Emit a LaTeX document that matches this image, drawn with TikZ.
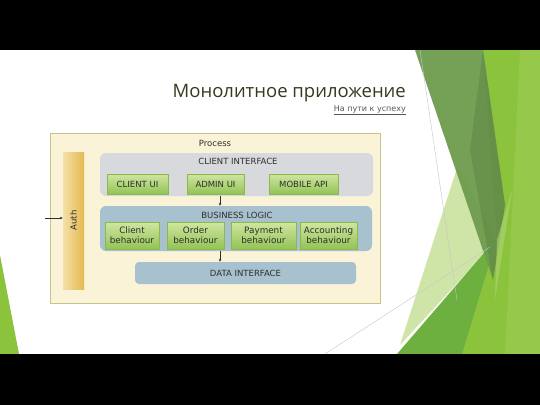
\documentclass[tikz,border=0pt]{standalone}
\usepackage{fontspec}
\setmainfont{DejaVu Sans}
\newfontfamily\dfont{DejaVu Sans}
\newfontfamily\tfont{Open Sans}
\usetikzlibrary{arrows.meta}
\definecolor{cream}{HTML}{FAF3D8}
\definecolor{creamline}{HTML}{C6C48E}
\definecolor{cigray}{HTML}{D8D9DC}
\definecolor{blgray}{HTML}{A8C1CE}
\definecolor{btntop}{HTML}{CFE6A0}
\definecolor{btnbot}{HTML}{93C356}
\definecolor{btnline}{HTML}{8DB850}
\definecolor{txt}{HTML}{2E2E2E}
\definecolor{titlec}{HTML}{333D1E}
\definecolor{subc}{HTML}{555555}
\definecolor{lime}{HTML}{8CC33C}
\definecolor{olive}{HTML}{6E9C4E}
\definecolor{midgreen}{HTML}{6DB040}
\definecolor{palegreen}{HTML}{CFE5A8}
\definecolor{authl}{HTML}{F4E0A6}
\definecolor{authr}{HTML}{E4B850}
\tikzset{
  layerbox/.style={rounded corners=6pt, draw=none, inner sep=0pt},
  btn/.style={draw=btnline, line width=0.5pt, top color=btntop, bottom color=btnbot,
    inner sep=0pt, font=\dfont\fontsize{8.5}{9.5}\selectfont, text=txt, align=center},
  lbl/.style={font=\dfont\fontsize{8.5}{9.5}\selectfont, text=txt, inner sep=0pt},
  conn/.style={-{Stealth[length=3pt,width=2.5pt]}, line width=0.5pt, draw=txt},
  thin/.style={draw=gray!45, line width=0.4pt}
}
\begin{document}
\begin{tikzpicture}[x=1pt,y=-1pt]
% background and bars
\path[use as bounding box, fill=white] (0,0) rectangle (540,405);
% decorations
\fill[lime] (483,50) -- (540,50) -- (540,354) -- (458,354) -- (497,240) -- cycle;
\fill[lime!92!white] (520,50) -- (540,50) -- (540,354) -- (505,354) -- cycle;
\fill[palegreen] (458,165) -- (497,240) -- (400,345) -- cycle;
\fill[midgreen] (397,354) -- (497,238) -- (462,354) -- cycle;
\fill[olive, fill opacity=0.95] (415,50) -- (483,50) -- (505,205) -- (493,280) -- cycle;
\fill[olive!85!black, fill opacity=0.5] (483,50) -- (505,205) -- (493,280) -- (470,150) -- cycle;
\fill[lime!70!white, fill opacity=0.6] (497,240) -- (512,190) -- (495,300) -- cycle;
\draw[thin] (420,50) -- (457,300);
\draw[thin] (325,354) -- (490,247);
\fill[lime] (0,255) -- (19,354) -- (0,354) -- cycle;
\fill[black] (0,0) rectangle (540,50);
\fill[black] (0,354) rectangle (540,405);
% title
\node[anchor=base east, inner sep=0pt, text=titlec, font=\tfont\fontsize{18.5}{21}\selectfont] (title) at (406,97) {Монолитное приложение};
\node[anchor=base east, inner sep=0pt, text=subc, font=\dfont\fontsize{8}{9}\selectfont] (sub) at (406,111) {\underline{На пути к успеху}};
% process box
\node[draw=creamline, fill=cream, line width=1pt, minimum width=330pt, minimum height=170pt, inner sep=0pt] (proc) at (215,218) {};
\node[lbl] (proclbl) at (215,143) {Process};
% auth
\node[draw=none, left color=authl, right color=authr, minimum width=21pt, minimum height=137pt, inner sep=0pt] (auth) at (73.5,220.5) {};
\node[lbl, rotate=90] (authlbl) at (auth.center) {Auth};
\coordinate (authin) at (45,218);
\draw[conn] (authin) -- (authin -| auth.west);
% client interface
\node[layerbox, fill=cigray, minimum width=273pt, minimum height=43pt] (ci) at (236.5,174.5) {};
\node[lbl] (cilbl) at (238,161) {CLIENT INTERFACE};
\node[btn, minimum width=61pt, minimum height=20pt] (cui) at (137.5,184) {CLIENT UI};
\node[btn, minimum width=57pt, minimum height=20pt] (aui) at (215.5,184) {ADMIN UI};
\node[btn, minimum width=69pt, minimum height=20pt] (mapi) at (303.5,184) {MOBILE API};
% business logic
\node[layerbox, fill=blgray, minimum width=272pt, minimum height=45pt] (bl) at (236,228.5) {};
\node[lbl] (bllbl) at (237,215) {BUSINESS LOGIC};
\node[btn, minimum width=54pt, minimum height=27pt, font=\dfont\fontsize{8.8}{10}\selectfont] (cb) at (132,235.5) {Client\\behaviour};
\node[btn, minimum width=57pt, minimum height=27pt, font=\dfont\fontsize{8.8}{10}\selectfont] (ob) at (195.5,235.5) {Order\\behaviour};
\node[btn, minimum width=65pt, minimum height=27pt, font=\dfont\fontsize{8.8}{10}\selectfont] (pb) at (263.5,235.5) {Payment\\behaviour};
\node[btn, minimum width=57pt, minimum height=27pt, font=\dfont\fontsize{8.8}{10}\selectfont] (ab) at (328.5,235.5) {Accounting\\behaviour};
% data interface
\node[layerbox, rounded corners=4pt, fill=blgray, minimum width=221pt, minimum height=22pt] (di) at (245.5,273) {};
\node[lbl] (dilbl) at (di.center) {DATA INTERFACE};
% connectors
\coordinate (ax) at (220,0);
\draw[conn] (ci.south -| ax) -- (bl.north -| ax);
\draw[conn] (bl.south -| ax) -- (di.north -| ax);
\end{tikzpicture}
\end{document}
